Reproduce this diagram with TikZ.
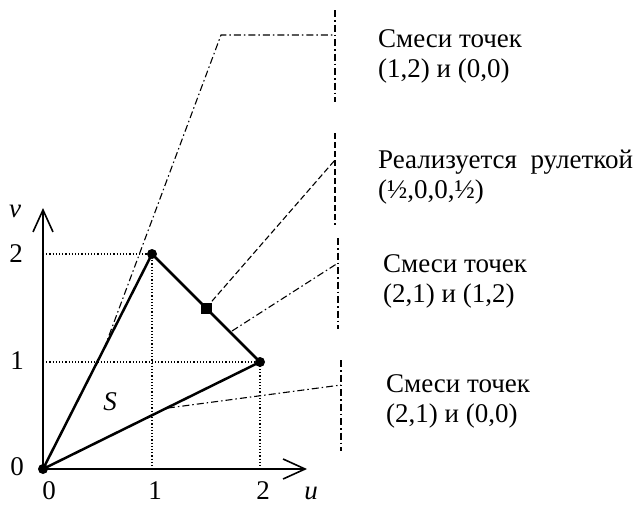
\documentclass[tikz,border=0pt]{standalone}
\usepackage{fontspec}
\setmainfont{Liberation Serif}
\usetikzlibrary{arrows.meta}
\begin{document}
\begin{tikzpicture}[x=1pt,y=-1pt,
  lbl/.style={inner sep=0pt,font=\fontsize{27}{30}\selectfont},
  txt/.style={inner sep=0pt,anchor=base west,align=left,font=\fontsize{27}{30}\selectfont},
  axis/.style={line width=1.8pt,-{Straight Barb[length=22pt 0 0,width=20pt 0 0,line width=1.6pt]}},
  edge/.style={line width=2.5pt,line cap=round},
  grid/.style={line width=1.2pt,dotted},
  dd/.style={line width=1.1pt,dash pattern=on 7pt off 3pt on 1.5pt off 3pt},
  ds/.style={line width=1.1pt,dash pattern=on 6pt off 3pt},
  dot/.style={circle,fill=black,inner sep=0pt,minimum size=10pt},
  sq/.style={rectangle,fill=black,inner sep=0pt,minimum size=11pt}]
\useasboundingbox (0,0) rectangle (639,506);
% coordinates
\coordinate (O) at (43,469);
\coordinate (A) at (152,254);
\coordinate (B) at (260,362);
\coordinate (M) at (206,308);
\coordinate (Vtop) at (43,208);
\coordinate (Uend) at (307,469);
\coordinate (A0) at (43,254);
\coordinate (B0) at (43,362);
\coordinate (Ax) at (152,469);
\coordinate (Bx) at (260,469);
% grid
\draw[grid] (A0) -- (A) -- (Ax);
\draw[grid] (B0) -- (B) -- (Bx);
% axes
\draw[axis] (O) -- (Vtop);
\draw[axis] (O) -- (Uend);
% leaders
\coordinate (P1) at (104,349);
\coordinate (K1) at (221,35);
\coordinate (E1) at (335,35);
\coordinate (E2) at (335,160);
\coordinate (P3) at (232,331);
\coordinate (E3) at (338,263);
\coordinate (P4) at (168,408);
\coordinate (E4) at (341,385);
\coordinate (V1a) at (335,10); \coordinate (V1b) at (335,102);
\coordinate (V2a) at (335,133); \coordinate (V2b) at (335,225);
\coordinate (V3a) at (338,238); \coordinate (V3b) at (338,329);
\coordinate (V4a) at (341,360); \coordinate (V4b) at (341,451);
\draw[dd] (P1) -- (K1) -- (E1);
\draw[dd] (V1a) -- (V1b);
\draw[ds] (M) -- (E2);
\draw[ds] (V2a) -- (V2b);
\draw[dd] (P3) -- (E3);
\draw[dd] (V3a) -- (V3b);
\draw[dd] (P4) -- (E4);
\draw[dd] (V4a) -- (V4b);
% triangle
\draw[edge] (O) -- (A) -- (B) -- cycle;
\node[dot] (nO) at (O) {};
\node[dot] (nA) at (A) {};
\node[dot] (nB) at (B) {};
\node[sq] (nM) at (M) {};
% labels
\node[lbl] (lv) at (15,211) {\textit{v}};
\node[lbl] (l2) at (16,254) {2};
\node[lbl] (l1) at (17,361) {1};
\node[lbl] (l0) at (17,467) {0};
\node[lbl] (b0) at (49,491) {0};
\node[lbl] (b1) at (155,491) {1};
\node[lbl] (b2) at (263,491) {2};
\node[lbl] (bu) at (311,493) {\textit{u}};
\node[lbl] (S) at (110,402) {\textit{S}};
% texts
\node[txt] (t1) at (378,77) {Смеси точек\\(1,2) и (0,0)};
\node[txt] (t2) at (378,198) {Реализуется\ \ рулеткой\\(½,0,0,½)};
\node[txt] (t3) at (383,302) {Смеси точек\\(2,1) и (1,2)};
\node[txt] (t4) at (386,422) {Смеси точек\\(2,1) и (0,0)};
\end{tikzpicture}
\end{document}
